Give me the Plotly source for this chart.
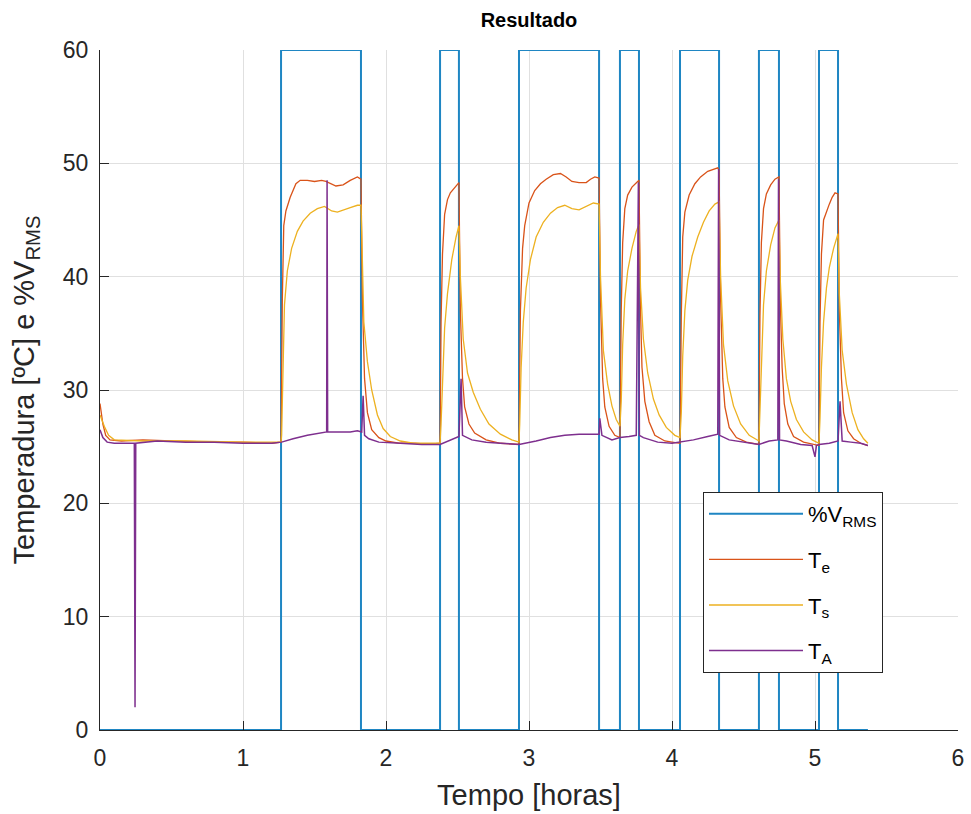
import plotly.graph_objects as go

# ---------------- data ----------------
# %V_RMS step signal: switching instants [h] and level after each instant
v_t = [0.0, 1.266, 1.825, 2.378, 2.510, 2.930, 3.490, 3.636, 3.769,
       4.056, 4.329, 4.608, 4.748, 5.028, 5.161, 5.37]
v_val = [0, 60, 0, 60, 0, 60, 0, 60, 0, 60, 0, 60, 0, 60, 0, 0]

# T_e (inlet temperature)
te_t = [0.00, 0.02, 0.04, 0.07, 0.15, 0.30, 0.50, 0.80, 1.00, 1.20, 1.266,
        1.275, 1.285, 1.30, 1.33, 1.37, 1.40, 1.45, 1.50, 1.55, 1.58, 1.60, 1.65, 1.70, 1.75, 1.80, 1.825,
        1.835, 1.85, 1.87, 1.90, 1.95, 2.00, 2.10, 2.20, 2.30, 2.378,
        2.385, 2.395, 2.41, 2.43, 2.45, 2.48, 2.51,
        2.52, 2.535, 2.55, 2.58, 2.62, 2.70, 2.80, 2.93,
        2.94, 2.955, 2.97, 3.00, 3.04, 3.08, 3.12, 3.17, 3.22, 3.26, 3.30, 3.35, 3.40, 3.43, 3.46, 3.49,
        3.50, 3.515, 3.53, 3.56, 3.60, 3.636,
        3.645, 3.655, 3.67, 3.69, 3.72, 3.75, 3.769,
        3.78, 3.79, 3.81, 3.84, 3.88, 3.95, 4.00, 4.056,
        4.065, 4.075, 4.09, 4.12, 4.16, 4.20, 4.25, 4.29, 4.32, 4.329,
        4.34, 4.355, 4.37, 4.40, 4.45, 4.52, 4.608,
        4.615, 4.625, 4.64, 4.66, 4.69, 4.72, 4.748,
        4.758, 4.77, 4.785, 4.81, 4.85, 4.92, 4.98, 5.028,
        5.035, 5.045, 5.06, 5.08, 5.10, 5.12, 5.14, 5.161,
        5.17, 5.185, 5.20, 5.23, 5.27, 5.32, 5.37]
te_val = [28.8, 27.0, 26.0, 25.6, 25.5, 25.6, 25.5, 25.4, 25.4, 25.3, 25.4,
          38.0, 44.5, 45.8, 47.0, 48.2, 48.5, 48.5, 48.4, 48.5, 48.4, 48.3, 48.0, 48.1, 48.5, 48.8, 48.6,
          38.0, 31.0, 28.0, 26.5, 25.8, 25.5, 25.3, 25.3, 25.2, 25.3,
          36.0, 42.0, 45.5, 46.8, 47.4, 47.9, 48.3,
          37.0, 31.0, 28.5, 27.0, 26.2, 25.6, 25.3, 25.2,
          37.0, 42.5, 44.5, 46.5, 47.6, 48.2, 48.6, 49.0, 49.1, 48.8, 48.4, 48.3, 48.3, 48.6, 48.8, 48.7,
          38.0, 31.0, 28.5, 26.8, 26.0, 25.8,
          37.0, 43.0, 46.0, 47.2, 47.9, 48.3, 48.5,
          37.0, 32.0, 29.0, 27.2, 26.0, 25.5, 25.4, 25.3,
          36.5, 43.5, 45.7, 47.2, 48.2, 48.8, 49.3, 49.5, 49.6, 49.4,
          38.0, 31.0, 28.5, 26.7, 25.8, 25.4, 25.2,
          36.5, 43.0, 46.0, 47.3, 48.1, 48.6, 48.8,
          37.5, 32.0, 28.8, 27.0, 25.9, 25.4, 25.2, 25.1,
          36.0, 42.0, 45.0, 45.8, 46.4, 47.0, 47.4, 47.3,
          37.0, 31.0, 28.0, 26.4, 25.7, 25.3, 25.1]

# T_s (outlet temperature)
ts_t = [0.00, 0.03, 0.06, 0.10, 0.30, 0.60, 1.00, 1.266,
        1.27, 1.28, 1.29, 1.31, 1.34, 1.38, 1.42, 1.47, 1.52, 1.57, 1.62, 1.66, 1.70, 1.75, 1.80, 1.825,
        1.83, 1.845, 1.87, 1.90, 1.94, 1.98, 2.03, 2.10, 2.20, 2.378,
        2.385, 2.395, 2.41, 2.43, 2.46, 2.49, 2.51,
        2.52, 2.54, 2.57, 2.61, 2.66, 2.72, 2.80, 2.88, 2.93,
        2.935, 2.945, 2.96, 2.98, 3.01, 3.05, 3.10, 3.15, 3.20, 3.25, 3.30, 3.35, 3.40, 3.45, 3.49,
        3.50, 3.52, 3.55, 3.58, 3.61, 3.636,
        3.645, 3.655, 3.67, 3.69, 3.72, 3.75, 3.769,
        3.78, 3.80, 3.83, 3.87, 3.91, 3.96, 4.02, 4.056,
        4.065, 4.075, 4.09, 4.11, 4.14, 4.18, 4.22, 4.26, 4.30, 4.329,
        4.34, 4.36, 4.39, 4.43, 4.48, 4.54, 4.608,
        4.615, 4.625, 4.64, 4.66, 4.69, 4.72, 4.748,
        4.758, 4.775, 4.80, 4.83, 4.87, 4.92, 4.98, 5.028,
        5.035, 5.045, 5.06, 5.08, 5.10, 5.13, 5.161,
        5.17, 5.19, 5.22, 5.26, 5.30, 5.34, 5.37]
ts_val = [27.8, 26.8, 26.0, 25.6, 25.5, 25.5, 25.4, 25.4,
          26.0, 33.0, 37.5, 40.5, 42.5, 44.0, 44.9, 45.6, 46.0, 46.2, 45.8, 45.7, 45.9, 46.1, 46.3, 46.3,
          44.0, 36.0, 32.5, 30.0, 27.8, 26.6, 25.9, 25.5, 25.3, 25.3,
          27.0, 31.0, 35.5, 38.5, 41.5, 43.5, 44.5,
          40.0, 34.5, 31.5, 29.8, 28.3, 27.0, 26.1, 25.6, 25.4,
          27.0, 32.0, 36.0, 39.0, 41.5, 43.5, 44.8, 45.6, 46.1, 46.3, 46.0, 45.9, 46.2, 46.5, 46.4,
          40.0, 33.5, 30.5, 28.6, 27.4, 26.8,
          29.0, 34.0, 38.0, 40.5, 42.5, 44.0, 44.6,
          39.0, 34.5, 31.5, 29.2, 27.8, 26.7, 26.0, 25.8,
          28.0, 33.0, 37.0, 39.7, 41.8, 43.5, 44.8, 45.8, 46.4, 46.6,
          40.0, 34.0, 30.8, 28.6, 27.0, 26.0, 25.5,
          28.0, 33.0, 37.5, 40.5, 42.8, 44.3, 45.0,
          39.5, 34.5, 31.0, 29.0, 27.4, 26.3, 25.6, 25.3,
          27.5, 32.0, 36.0, 39.0, 40.8, 42.5, 43.8,
          38.5, 33.5, 30.5, 28.0, 26.5, 25.7, 25.3]

# T_A (ambient temperature)
ta_t = [0.00, 0.02, 0.05, 0.10, 0.24, 0.245, 0.25, 0.40, 0.60, 0.80, 1.00, 1.20,
        1.27, 1.35, 1.45, 1.55, 1.585, 1.588, 1.592, 1.65, 1.75, 1.80, 1.83, 1.84, 1.85, 1.88, 1.95,
        2.10, 2.25, 2.378, 2.45, 2.51, 2.525, 2.535, 2.60, 2.70, 2.80, 2.93,
        3.05, 3.15, 3.25, 3.35, 3.45, 3.49, 3.495, 3.51, 3.58, 3.636, 3.70,
        3.75, 3.765, 3.772, 3.80, 3.90, 4.00, 4.056, 4.15, 4.25, 4.32, 4.326, 4.333,
        4.40, 4.50, 4.608, 4.68, 4.74, 4.745, 4.752, 4.80, 4.90, 4.98, 5.00, 5.01,
        5.028, 5.10, 5.161, 5.175, 5.19, 5.25, 5.32, 5.37]
ta_val = [26.5, 25.8, 25.4, 25.3, 25.3, 2.0, 25.3, 25.5, 25.4, 25.4, 25.3, 25.3,
          25.4, 25.7, 26.0, 26.2, 26.3, 48.5, 26.3, 26.3, 26.3, 26.4, 26.3, 29.5, 26.0, 25.7, 25.4,
          25.3, 25.2, 25.2, 25.6, 25.9, 31.0, 26.0, 25.6, 25.4, 25.3, 25.2,
          25.5, 25.8, 26.0, 26.1, 26.1, 26.1, 27.5, 26.0, 25.6, 25.8, 25.9,
          26.0, 48.3, 26.0, 25.8, 25.4, 25.3, 25.4, 25.6, 25.9, 26.1, 49.5, 26.0,
          25.6, 25.4, 25.2, 25.5, 25.6, 48.6, 25.6, 25.5, 25.2, 25.1, 24.1, 25.1,
          25.2, 25.3, 25.5, 29.0, 25.5, 25.4, 25.3, 25.1]

x_ticks = [0, 1, 2, 3, 4, 5, 6]
y_ticks = [0, 10, 20, 30, 40, 50, 60]

# ---------------- figure ----------------
FONT = "Liberation Sans, Arial, Helvetica, sans-serif"
INK = "#262626"
W, H = 971, 814
PL, PR, PT, PB = 100, 958, 50, 730   # plot-area edges in the page

fig = go.Figure()
fig.add_trace(go.Scatter(x=v_t, y=v_val, mode="lines", line_shape="hv",
                         name="%V<sub>RMS</sub>", legendgroup="a",
                         line=dict(color="#1f86c3", width=2)))
fig.add_trace(go.Scatter(x=te_t, y=te_val, mode="lines", name="T<sub>e</sub>",
                         legendgroup="b", line=dict(color="#D95319", width=1.3)))
fig.add_trace(go.Scatter(x=ts_t, y=ts_val, mode="lines", name="T<sub>s</sub>",
                         legendgroup="c", line=dict(color="#EDB120", width=1.3)))
fig.add_trace(go.Scatter(x=ta_t, y=ta_val, mode="lines", name="T<sub>A</sub>",
                         legendgroup="d", line=dict(color="#7E2F8E", width=1.5)))

axis_common = dict(showgrid=True, gridcolor="#e0e0e0", gridwidth=1,
                   showline=True, linecolor=INK, linewidth=1, mirror=False,
                   ticks="inside", ticklen=9, tickcolor=INK, tickwidth=1,
                   zeroline=False, automargin=False,
                   tickfont=dict(family=FONT, size=23, color=INK))

fig.update_layout(
    template="none",
    width=W, height=H,
    margin=dict(l=PL, r=W - PR, t=PT, b=H - PB, autoexpand=False),
    paper_bgcolor="white", plot_bgcolor="white",
    font=dict(family=FONT, color=INK),
    hovermode=False,
    title=dict(text="<b>Resultado</b>", x=529 / W, xanchor="center",
               y=1 - 20 / H, yanchor="middle",
               font=dict(family=FONT, size=20, color="#000000")),
    xaxis=dict(range=[0, 6], tickvals=x_ticks, ticklabelstandoff=7,
               title=dict(text="Tempo [horas]", standoff=15,
                          font=dict(family=FONT, size=29, color=INK)),
               **axis_common),
    yaxis=dict(range=[0, 60], tickvals=y_ticks, ticklabelstandoff=6,
               title=dict(text="Temperadura [ºC] e %V<sub>RMS</sub>", standoff=19,
                          font=dict(family=FONT, size=29, color=INK)),
               **axis_common),
    legend=dict(x=(703 - PL) / (PR - PL), y=(PB - 492) / (PB - PT),
                xanchor="left", yanchor="top",
                bgcolor="white", bordercolor=INK, borderwidth=1,
                font=dict(family=FONT, size=22, color="#000000"),
                traceorder="grouped", tracegroupgap=14, itemwidth=94,
                entrywidth=91, entrywidthmode="pixels"),
)

# remove the page's default body margin so the figure sits at the window origin
fig.write_html("out.html",
               config={"displayModeBar": False},
               post_script="document.body.style.margin='0';"
                           "document.body.style.overflow='hidden';")
